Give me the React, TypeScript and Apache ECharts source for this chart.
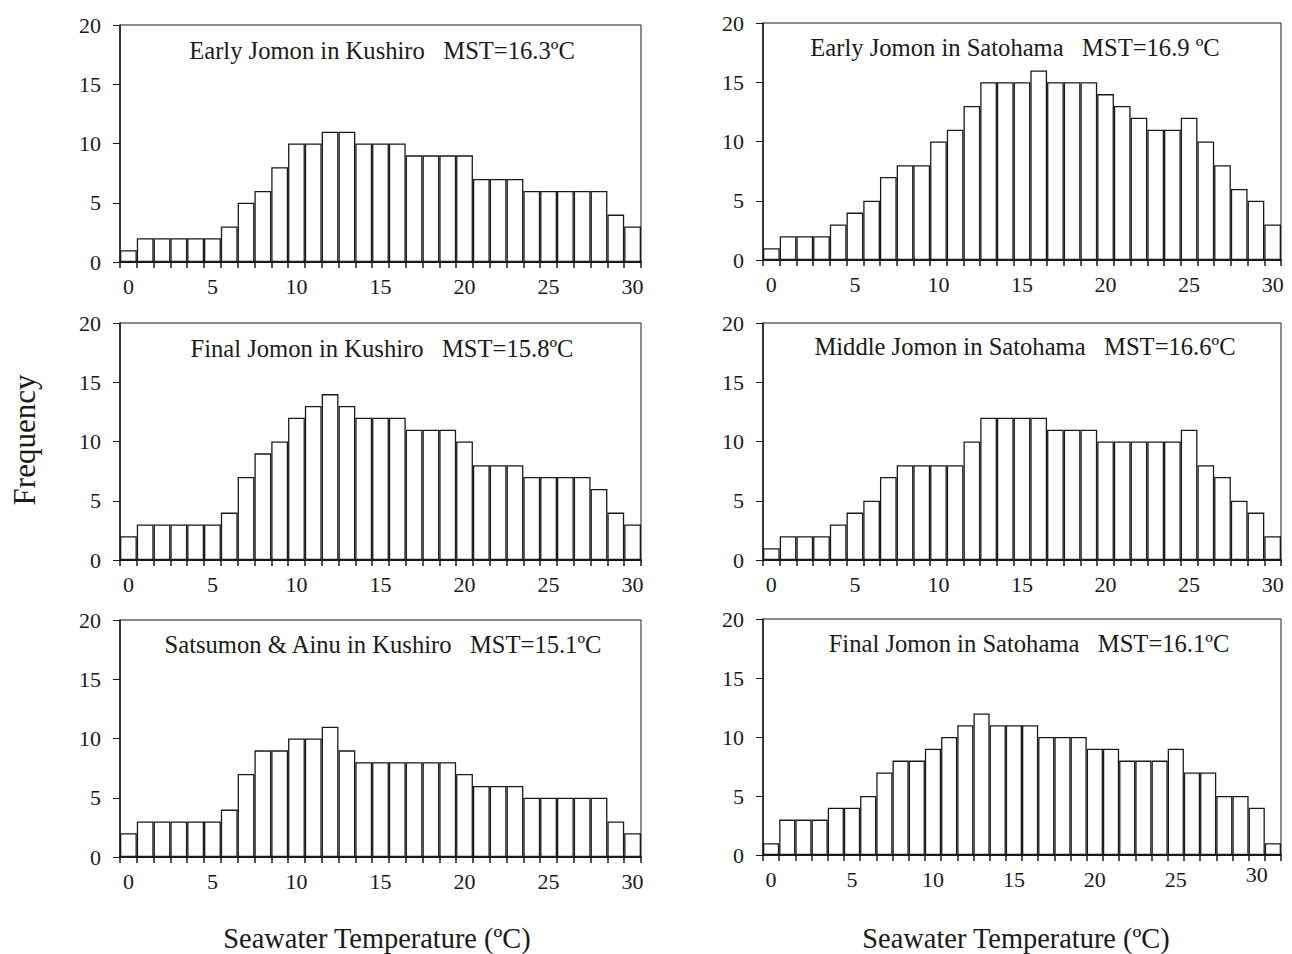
import React, { useEffect, useRef } from "react";
import * as echarts from "echarts";

const tempBins31 = ["0","1","2","3","4","5","6","7","8","9","10","11","12","13","14","15","16","17","18","19","20","21","22","23","24","25","26","27","28","29","30"];
const tempBins32 = ["0","1","2","3","4","5","6","7","8","9","10","11","12","13","14","15","16","17","18","19","20","21","22","23","24","25","26","27","28","29","30","31"];
const yTicks = [0, 5, 10, 15, 20];

const earlyKushiro = [1,2,2,2,2,2,3,5,6,8,10,10,11,11,10,10,10,9,9,9,9,7,7,7,6,6,6,6,6,4,3];
const earlySatohama = [1,2,2,2,3,4,5,7,8,8,10,11,13,15,15,15,16,15,15,15,14,13,12,11,11,12,10,8,6,5,3];
const finalKushiro = [2,3,3,3,3,3,4,7,9,10,12,13,14,13,12,12,12,11,11,11,10,8,8,8,7,7,7,7,6,4,3];
const middleSatohama = [1,2,2,2,3,4,5,7,8,8,8,8,10,12,12,12,12,11,11,11,10,10,10,10,10,11,8,7,5,4,2];
const satsumonKushiro = [2,3,3,3,3,3,4,7,9,9,10,10,11,9,8,8,8,8,8,8,7,6,6,6,5,5,5,5,5,3,2];
const finalSatohama = [1,3,3,3,4,4,5,7,8,8,9,10,11,12,11,11,11,10,10,10,9,9,8,8,8,9,7,7,5,5,4,1];

const panelTitles = [
  "Early Jomon in Kushiro\u00a0\u00a0\u00a0MST=16.3ºC",
  "Early Jomon in Satohama\u00a0\u00a0\u00a0MST=16.9 ºC",
  "Final Jomon in Kushiro\u00a0\u00a0\u00a0MST=15.8ºC",
  "Middle Jomon in Satohama\u00a0\u00a0\u00a0MST=16.6ºC",
  "Satsumon & Ainu in Kushiro\u00a0\u00a0\u00a0MST=15.1ºC",
  "Final Jomon in Satohama\u00a0\u00a0\u00a0MST=16.1ºC",
];
const xAxisTitle = "Seawater Temperature (ºC)";
const yAxisTitle = "Frequency";

const FONT = "'Liberation Serif', 'DejaVu Serif', serif";
const INK = "#1a1a1a";

export default function App() {
  const ref = useRef<HTMLDivElement>(null);
  useEffect(() => {
    document.body.style.margin = "0";
    const chart = echarts.init(ref.current!, null, { renderer: "svg" });
    const panels = [
      { data: earlyKushiro, cats: tempBins31, left: 120, top: 25, width: 521, height: 237, tx: 382, ty: 50, raise: false },
      { data: earlySatohama, cats: tempBins31, left: 763, top: 23, width: 518, height: 237, tx: 1015, ty: 47, raise: false },
      { data: finalKushiro, cats: tempBins31, left: 120, top: 323, width: 521, height: 237, tx: 382, ty: 348, raise: false },
      { data: middleSatohama, cats: tempBins31, left: 763, top: 323, width: 518, height: 237, tx: 1025, ty: 346, raise: false },
      { data: satsumonKushiro, cats: tempBins31, left: 120, top: 620, width: 521, height: 237, tx: 383, ty: 644, raise: false },
      { data: finalSatohama, cats: tempBins32, left: 763, top: 619, width: 518, height: 236, tx: 1029, ty: 643, raise: true },
    ];
    const option: any = {
      animation: false,
      backgroundColor: "#fff",
      grid: panels.map((p) => ({
        left: p.left, top: p.top, width: p.width, height: p.height,
        show: true, borderColor: INK, borderWidth: 1, backgroundColor: "transparent",
        containLabel: false,
      })),
      xAxis: panels.map((p, i) => ({
        type: "category",
        gridIndex: i,
        data: p.cats,
        boundaryGap: true,
        axisLine: { show: true, lineStyle: { color: INK, width: 2 } },
        axisTick: { show: true, interval: 0, length: 6, inside: false, lineStyle: { color: INK, width: 1.5 } },
        axisLabel: {
          interval: 4, margin: 13, fontFamily: FONT, fontSize: 22, color: INK,
          formatter: p.raise ? (v: string) => (v === "30" ? "{up|30}" : v) : undefined,
          rich: { up: { fontFamily: FONT, fontSize: 22, color: INK, lineHeight: 12 } },
        },
        splitLine: { show: false },
      })),
      yAxis: panels.map((p, i) => ({
        type: "value",
        gridIndex: i,
        min: yTicks[0],
        max: yTicks[yTicks.length - 1],
        interval: 5,
        axisLine: { show: true, lineStyle: { color: INK, width: 1.5 } },
        axisTick: { show: true, length: 7, inside: false, lineStyle: { color: INK, width: 1 } },
        axisLabel: { margin: 19, fontFamily: FONT, fontSize: 22, color: INK },
        splitLine: { show: false },
      })),
      series: panels.map((p, i) => ({
        type: "bar",
        xAxisIndex: i,
        yAxisIndex: i,
        data: p.data,
        barCategoryGap: "0%",
        itemStyle: { color: "#fff", borderColor: INK, borderWidth: 1.3 },
        emphasis: { disabled: true },
      })),
      graphic: [
        ...panels.map((p, i) => ({
          type: "text",
          x: p.tx,
          y: p.ty,
          style: {
            text: panelTitles[i],
            fontFamily: FONT,
            fontSize: 24.6,
            fill: INK,
            textAlign: "center",
            textVerticalAlign: "middle",
          },
        })),
        {
          type: "text", x: 377, y: 938,
          style: { text: xAxisTitle, fontFamily: FONT, fontSize: 28.4, fill: INK, textAlign: "center", textVerticalAlign: "middle" },
        },
        {
          type: "text", x: 1016, y: 938,
          style: { text: xAxisTitle, fontFamily: FONT, fontSize: 28.4, fill: INK, textAlign: "center", textVerticalAlign: "middle" },
        },
        {
          type: "text", x: 24, y: 440, rotation: Math.PI / 2,
          style: { text: yAxisTitle, fontFamily: FONT, fontSize: 31, fill: INK, textAlign: "center", textVerticalAlign: "middle" },
        },
      ],
    };
    chart.setOption(option);
    return () => chart.dispose();
  }, []);
  return <div ref={ref} style={{ width: 1292, height: 954 }} />;
}
